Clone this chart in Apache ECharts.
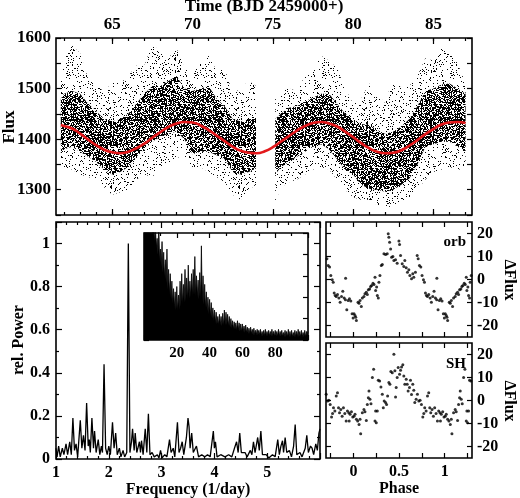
<!DOCTYPE html>
<html>
<head>
<meta charset="utf-8">
<script src="https://cdn.jsdelivr.net/npm/echarts@6/dist/echarts.min.js"></script>
<style>
  html, body { margin: 0; padding: 0; background: #fff; }
  #chart { width: 520px; height: 498px; }
</style>
</head>
<body>
<div id="chart"></div>
<script>
// light curve, binned: time, outer envelope and dense core of the points
const lcTime = [61.8, 62.0, 62.5, 63.0, 63.5, 64.0, 64.5, 65.0, 65.5, 66.0, 66.5, 67.0, 67.5, 68.0, 68.5, 69.0, 69.5, 70.0, 70.5, 71.0, 71.5, 72.0, 72.5, 73.0, 73.5, 73.95,
  75.15, 75.5, 76.0, 76.5, 77.0, 77.5, 78.0, 78.5, 79.0, 79.5, 80.0, 80.5, 81.0, 81.5, 82.0, 82.5, 83.0, 83.5, 84.0, 84.5, 85.0, 85.5, 86.0, 86.5, 87.0]
const lcOutLo = [1350, 1345, 1340, 1330, 1325, 1320, 1305, 1290, 1295, 1300, 1320, 1330, 1325, 1345, 1350, 1365, 1360, 1345, 1345, 1335, 1325, 1315, 1290, 1280, 1300, 1310,
  1275, 1305, 1315, 1320, 1330, 1340, 1345, 1340, 1320, 1300, 1285, 1280, 1280, 1270, 1262, 1270, 1275, 1285, 1300, 1320, 1335, 1340, 1345, 1340, 1340]
const lcCoreLo = [1380, 1380, 1385, 1375, 1365, 1355, 1340, 1330, 1335, 1345, 1365, 1380, 1395, 1405, 1410, 1415, 1400, 1370, 1375, 1375, 1368, 1360, 1335, 1330, 1335, 1342,
  1330, 1345, 1355, 1365, 1375, 1385, 1390, 1380, 1360, 1340, 1330, 1310, 1302, 1300, 1296, 1300, 1310, 1322, 1350, 1385, 1390, 1395, 1395, 1385, 1375]
const lcCoreHi = [1480, 1490, 1495, 1490, 1470, 1455, 1440, 1435, 1440, 1450, 1470, 1490, 1505, 1505, 1515, 1525, 1500, 1495, 1500, 1505, 1480, 1465, 1440, 1435, 1440, 1440,
  1440, 1450, 1462, 1465, 1475, 1482, 1490, 1490, 1470, 1450, 1440, 1430, 1428, 1418, 1410, 1415, 1425, 1440, 1465, 1495, 1500, 1508, 1510, 1500, 1490]
const lcOutHi = [1540, 1560, 1585, 1570, 1520, 1515, 1490, 1515, 1510, 1525, 1545, 1545, 1590, 1570, 1560, 1580, 1540, 1535, 1550, 1565, 1535, 1540, 1490, 1500, 1515, 1505,
  1480, 1495, 1500, 1495, 1525, 1535, 1565, 1555, 1540, 1500, 1470, 1480, 1510, 1490, 1470, 1525, 1500, 1505, 1525, 1560, 1555, 1580, 1570, 1550, 1510]

// red fit
const fitTime = [61.8, 62.0, 62.5, 63.0, 63.5, 64.0, 64.5, 65.0, 65.5, 66.0, 66.5, 67.0, 67.5, 68.0, 68.5, 69.0, 69.5, 70.0, 70.5, 71.0, 71.5, 72.0, 72.5, 73.0, 73.5, 74.0,
  74.5, 75.0, 75.5, 76.0, 76.5, 77.0, 77.5, 78.0, 78.5, 79.0, 79.5, 80.0, 80.5, 81.0, 81.5, 82.0, 82.5, 83.0, 83.5, 84.0, 84.5, 85.0, 85.5, 86.0, 86.5, 87.0]
const fitFlux = [1428, 1426, 1421, 1411, 1399, 1388, 1379, 1374, 1372, 1375, 1382, 1391, 1403, 1414, 1424, 1431, 1434, 1433, 1427, 1418, 1407, 1396, 1385, 1377, 1373, 1372,
  1376, 1384, 1395, 1406, 1417, 1426, 1432, 1434, 1431, 1425, 1415, 1404, 1392, 1382, 1375, 1372, 1373, 1378, 1387, 1398, 1410, 1420, 1429, 1433, 1434, 1432]

// periodogram 1-6 c/d
const pgFreq = [1.00, 1.02, 1.05, 1.08, 1.12, 1.15, 1.19, 1.22, 1.26, 1.29, 1.32, 1.35, 1.38, 1.41, 1.46, 1.49, 1.52, 1.55, 1.58, 1.61, 1.63, 1.65, 1.68, 1.71, 1.73, 1.76,
  1.80, 1.83, 1.86, 1.88, 1.91, 1.94, 1.97, 2.00, 2.03, 2.07, 2.10, 2.13, 2.16, 2.20, 2.23, 2.27, 2.30, 2.34, 2.37, 2.40, 2.43, 2.45, 2.48, 2.50, 2.53, 2.58, 2.60, 2.62,
  2.65, 2.69, 2.72, 2.75, 2.78, 2.82, 2.86, 2.92, 2.95, 2.98, 3.01, 3.06, 3.10, 3.15, 3.18, 3.22, 3.25, 3.30, 3.33, 3.36, 3.39, 3.42, 3.47, 3.50, 3.52, 3.54, 3.57, 3.60,
  3.66, 3.70, 3.76, 3.82, 3.87, 3.92, 3.98, 4.00, 4.02, 4.05, 4.12, 4.20, 4.27, 4.33, 4.38, 4.42, 4.45, 4.48, 4.51, 4.58, 4.62, 4.68, 4.71, 4.74, 4.77, 4.82, 4.85, 4.88,
  4.91, 4.98, 5.03, 5.10, 5.15, 5.20, 5.23, 5.26, 5.29, 5.31, 5.34, 5.37, 5.42, 5.46, 5.50, 5.53, 5.56, 5.62, 5.66, 5.72, 5.75, 5.78, 5.82, 5.85, 5.88, 5.92, 5.95, 5.98, 6.00]
const pgPower = [0.05, 0.01, 0.06, 0.01, 0.05, 0.02, 0.07, 0.02, 0.08, 0.02, 0.19, 0.04, 0.07, 0.01, 0.18, 0.05, 0.11, 0.04, 0.26, 0.06, 0.09, 0.03, 0.19, 0.05, 0.13, 0.03,
  0.09, 0.02, 0.06, 0.03, 0.44, 0.05, 0.02, 0.06, 0.02, 0.17, 0.05, 0.12, 0.02, 0.05, 0.01, 0.04, 0.01, 0.03, 1.00, 0.03, 0.08, 0.14, 0.04, 0.12, 0.03, 0.08, 0.03, 0.085,
  0.02, 0.14, 0.03, 0.21, 0.02, 0.03, 0.01, 0.02, 0.005, 0.04, 0.005, 0.02, 0.01, 0.09, 0.03, 0.05, 0.01, 0.17, 0.03, 0.05, 0.08, 0.02, 0.10, 0.19, 0.15, 0.05, 0.12, 0.03,
  0.06, 0.01, 0.02, 0.01, 0.02, 0.01, 0.13, 0.05, 0.08, 0.01, 0.02, 0.01, 0.02, 0.01, 0.05, 0.08, 0.03, 0.12, 0.03, 0.03, 0.01, 0.04, 0.02, 0.08, 0.03, 0.10, 0.04, 0.13,
  0.02, 0.02, 0.005, 0.02, 0.01, 0.09, 0.02, 0.06, 0.085, 0.03, 0.10, 0.03, 0.04, 0.01, 0.06, 0.16, 0.02, 0.03, 0.01, 0.05, 0.11, 0.03, 0.06, 0.05, 0.02, 0.07, 0.04, 0.12, 0.14]

// inset periodogram 0-100 c/d, spike tops and dense floor per 1 c/d
const insetPeak = [1.1, 1.1, 1.1, 1.1, 1.1, 1.1, 1.1, 1.05, 0.95, 1.1, 0.85, 0.92, 0.82, 0.75, 0.85, 0.66, 0.62, 0.55, 0.48, 0.45, 0.50, 0.42, 0.55, 0.62, 0.52, 0.66,
  0.58, 0.70, 0.55, 0.62, 0.66, 0.78, 0.60, 0.56, 0.63, 0.88, 0.60, 0.52, 0.45, 0.40, 0.38, 0.35, 0.30, 0.28, 0.26, 0.22, 0.24, 0.22, 0.25, 0.28, 0.26, 0.24, 0.22,
  0.20, 0.18, 0.17, 0.16, 0.18, 0.16, 0.15, 0.15, 0.13, 0.14, 0.12, 0.11, 0.12, 0.10, 0.11, 0.09, 0.10, 0.09, 0.10, 0.08, 0.09, 0.10, 0.08, 0.09, 0.08, 0.10, 0.08,
  0.09, 0.08, 0.10, 0.08, 0.09, 0.07, 0.09, 0.08, 0.10, 0.08, 0.09, 0.07, 0.09, 0.08, 0.10, 0.08, 0.09, 0.07, 0.09, 0.08, 0.08]
const insetFloor = [1.1, 1.1, 1.1, 1.1, 1.05, 0.98, 0.92, 0.86, 0.80, 0.74, 0.68, 0.63, 0.58, 0.53, 0.47, 0.42, 0.38, 0.34, 0.30, 0.28, 0.27, 0.28, 0.31, 0.33, 0.35, 0.36,
  0.37, 0.39, 0.40, 0.41, 0.42, 0.41, 0.40, 0.38, 0.37, 0.36, 0.33, 0.30, 0.27, 0.24, 0.22, 0.20, 0.18, 0.16, 0.15, 0.14, 0.14, 0.13, 0.13, 0.14, 0.14, 0.13, 0.12,
  0.11, 0.10, 0.10, 0.09, 0.09, 0.08, 0.08, 0.08, 0.07, 0.07, 0.06, 0.06, 0.06, 0.05, 0.05, 0.05, 0.05, 0.05, 0.04, 0.04, 0.04, 0.04, 0.04, 0.04, 0.04, 0.035, 0.035,
  0.035, 0.035, 0.035, 0.035, 0.035, 0.03, 0.03, 0.03, 0.03, 0.03, 0.03, 0.03, 0.03, 0.03, 0.03, 0.03, 0.03, 0.03, 0.03, 0.03, 0.03]

// phase-folded residuals, phase 0..1 (shown again at +-1)
const orbPhase = [0.007, 0.018, 0.026, 0.033, 0.051, 0.062, 0.073, 0.087, 0.098, 0.116, 0.127, 0.142, 0.153, 0.164, 0.178, 0.189, 0.200, 0.215, 0.226, 0.237,
  0.244, 0.255, 0.262, 0.273, 0.280, 0.291, 0.306, 0.317, 0.335, 0.353, 0.371, 0.382, 0.389, 0.397, 0.408, 0.419, 0.433, 0.444, 0.462, 0.480, 0.499, 0.506, 0.517,
  0.535, 0.553, 0.564, 0.579, 0.593, 0.608, 0.619, 0.637, 0.651, 0.662, 0.680, 0.699, 0.710, 0.724, 0.739, 0.753, 0.768, 0.779, 0.790, 0.801, 0.812, 0.826, 0.841,
  0.855, 0.870, 0.884, 0.899, 0.913, 0.928, 0.943, 0.957, 0.972, 0.986, 0.997, 0.915]
const orbFlux = [-14.9, -15.7, -16.4, -17.8, -9.9, -10.3, -9.1, -11.7, -8.0, -7.4, -6.2, -5.5, -6.5, -4.5, -4.1, -3.0, -2.6, -1.6, -2.2, 1.0,
  -4.8, -3.3, -7.0, -8.0, -1.2, 1.7, 6.1, 6.5, 11.2, 10.9, 11.2, 19.9, 18.4, 16.2, 13.3, 9.7, 10.0, 8.3, 8.6, 7.1, 16.7, 15.2, 10.4,
  6.8, 5.7, 8.3, 5.1, 3.2, 4.2, 1.7, 0.3, 2.5, 1.0, 3.2, 10.4, 9.0, 6.1, 5.4, 1.7, -0.1, -1.2, -5.9, -7.0, -7.4, -6.5, -8.0,
  -9.9, -7.4, -5.1, -8.0, -8.8, -13.2, -9.1, -8.4, -9.4, -14.9, -16.7, 0.5]
const shPhase = [0.007, 0.018, 0.033, 0.047, 0.062, 0.073, 0.080, 0.098, 0.116, 0.127, 0.142, 0.153, 0.164, 0.171, 0.182, 0.193, 0.208, 0.222, 0.237, 0.244,
  0.251, 0.262, 0.273, 0.288, 0.302, 0.317, 0.328, 0.338, 0.353, 0.364, 0.375, 0.389, 0.400, 0.411, 0.426, 0.444, 0.455, 0.462, 0.469, 0.480,
  0.491, 0.506, 0.517, 0.528, 0.542, 0.553, 0.564, 0.579, 0.590, 0.600, 0.615, 0.626, 0.637, 0.651, 0.662, 0.673, 0.688, 0.702, 0.717, 0.731,
  0.746, 0.761, 0.772, 0.782, 0.797, 0.812, 0.826, 0.837, 0.848, 0.862, 0.877, 0.891, 0.906, 0.921, 0.935, 0.950, 0.954, 0.964, 0.979, 0.993]
const shFlux = [-6.8, -6.0, -8.2, -8.9, -10.4, -8.2, -14.5, -5.3, -3.9, -4.9, -8.7, -1.7, 1.2, 4.1, 0.5, -1.4, 10.0, 13.6, -8.9, -4.6,
  -9.7, -4.6, 8.8, 8.5, 5.9, 2.7, -3.1, -0.2, -0.9, -1.7, 2.0, 7.8, 7.1, 12.6, 12.1, 20.1, 12.9, 1.5, 5.6, 10.0,
  14.3, 11.4, 13.2, 14.6, 15.5, 10.7, 7.1, 9.2, 7.1, 4.1, 5.6, 8.8, 2.6, 7.1, 4.5, -0.9, 0.5, 2.7, -0.2, 0.1,
  -1.7, -7.2, -5.7, -3.1, -4.6, 2.0, 3.4, -3.1, -5.3, -3.9, -6.8, -3.1, -5.7, -8.9, -4.6, -5.3, -8.9, -6.0, -4.9, -7.2]

const timeLabels = [65, 70, 75, 80, 85]
const timeMinor = [62, 63, 64, 65, 66, 67, 68, 69, 70, 71, 72, 73, 74, 75, 76, 77, 78, 79, 80, 81, 82, 83, 84, 85, 86, 87]
const phaseTicks = [-0.25, 0, 0.25, 0.5, 0.75, 1, 1.25]
const phaseLabels = [0, 0.5, 1]
const dfluxTicks = [-20, -10, 0, 10, 20]

const FONT = 'Liberation Serif'
const txt = (size) => ({ fontFamily: FONT, fontWeight: 'bold', fontSize: size, color: '#000' })

// dotted texture for the scatter cloud
function speckle(density, seed) {
  const n = 64
  const c = document.createElement('canvas')
  c.width = n; c.height = n
  const ctx = c.getContext('2d')
  const img = ctx.createImageData(n, n)
  let s = seed
  for (let k = 0; k < n * n; k++) {
    s = (s * 1103515245 + 12345) & 0x7fffffff
    if (s / 0x7fffffff < density) img.data[k * 4 + 3] = 255
  }
  ctx.putImageData(img, 0, 0)
  return { image: c, repeat: 'repeat' }
}
const denseFill = speckle(0.55, 7)
const sparseFill = speckle(0.1, 11)

function band(lo, hi, fill) {
  return {
    type: 'custom',
    xAxisIndex: 0, yAxisIndex: 0,
    silent: true,
    data: lcTime.map((t, i) => [t, lo[i], hi[i]]),
    renderItem(params, api) {
      const i = params.dataIndex
      // one polygon per continuous run of bins
      if (i > 0 && lcTime[i] - lcTime[i - 1] < 0.8) return
      let j = i
      while (j + 1 < lcTime.length && lcTime[j + 1] - lcTime[j] < 0.8) j++
      const top = [], bot = []
      for (let k = i; k <= j; k++) {
        top.push(api.coord([lcTime[k], hi[k]]))
        bot.unshift(api.coord([lcTime[k], lo[k]]))
      }
      return { type: 'polygon', shape: { points: top.concat(bot) }, style: { fill: fill } }
    }
  }
}

function fold(ph, fl) {
  const out = []
  ph.forEach((p, i) => {
    [-1, 0, 1].forEach(k => {
      const q = p + k
      if (q >= -0.3 && q <= 1.3) out.push([q, fl[i]])
    })
  })
  return out
}

const insetData = []
insetPeak.forEach((v, f) => {
  insetData.push([f, v])
  if (f < insetPeak.length - 1) insetData.push([f + 0.5, insetFloor[f]])
})

const tick = (len, extra) => Object.assign({ show: true, inside: true, length: len, lineStyle: { color: '#000', width: 1.2 } }, extra || {})
const minor = (n) => ({ show: true, splitNumber: n, length: 3, lineStyle: { color: '#000', width: 1.2 } })
const noLine = { show: false, onZero: false }
const noSplit = { show: false }

function axis(grid, pos, min, max, extra) {
  return Object.assign({
    type: 'value', gridIndex: grid, position: pos, min: min, max: max,
    axisLine: noLine, splitLine: noSplit, axisLabel: { show: false }
  }, extra)
}

// rotated y titles as plain text
function vTitle(text, x, y, size, rot) {
  return {
    type: 'text', x: x, y: y, rotation: rot,
    style: { text: text, font: 'bold ' + size + 'px "Liberation Serif"', fill: '#000', align: 'center', verticalAlign: 'middle' }
  }
}

const frame = { show: true, borderColor: '#000', borderWidth: 1.6, backgroundColor: 'transparent', containLabel: false, outerBoundsMode: 'none' }

const chart = echarts.init(document.getElementById('chart'))
chart.setOption({
  animation: false,
  backgroundColor: '#fff',
  grid: [
    Object.assign({ left: 56, top: 38, width: 416, height: 177 }, frame),
    Object.assign({ left: 56, top: 222, width: 264, height: 237 }, frame),
    Object.assign({ left: 144, top: 233, width: 164, height: 107 }, frame),
    Object.assign({ left: 326, top: 222, width: 146, height: 115 }, frame),
    Object.assign({ left: 326, top: 343, width: 146, height: 115 }, frame)
  ],
  xAxis: [
    axis(0, 'top', 61.5, 87.4, {
      axisTick: tick(6, { customValues: timeLabels }),
      axisLabel: Object.assign({ show: true, customValues: timeLabels, margin: 5 }, txt(17)),
      name: 'Time (BJD 2459000+)', nameLocation: 'middle', nameGap: 22, nameTextStyle: txt(17)
    }),
    axis(0, 'top', 61.5, 87.4, { axisTick: tick(3, { customValues: timeMinor }) }),
    axis(0, 'bottom', 61.5, 87.4, { axisTick: tick(6, { customValues: timeLabels }) }),
    axis(0, 'bottom', 61.5, 87.4, { axisTick: tick(3, { customValues: timeMinor }) }),
    axis(1, 'bottom', 1, 6, {
      interval: 1, axisTick: tick(6), minorTick: minor(5),
      axisLabel: Object.assign({ show: true, margin: 6, showMaxLabel: false }, txt(16)),
      name: 'Frequency (1/day)', nameLocation: 'middle', nameGap: 23, nameTextStyle: txt(16)
    }),
    axis(1, 'top', 1, 6, { interval: 1, axisTick: tick(6), minorTick: minor(5) }),
    axis(2, 'bottom', 0, 100, {
      interval: 20, axisTick: tick(5), minorTick: minor(2),
      axisLabel: Object.assign({ show: true, margin: 6, showMinLabel: false, showMaxLabel: false }, txt(15))
    }),
    axis(2, 'top', 0, 100, { interval: 20, axisTick: tick(5), minorTick: minor(2) }),
    axis(3, 'bottom', -0.3, 1.3, { axisTick: tick(5, { customValues: phaseTicks }) }),
    axis(3, 'top', -0.3, 1.3, { axisTick: tick(5, { customValues: phaseTicks }) }),
    axis(4, 'bottom', -0.3, 1.3, {
      axisTick: tick(5, { customValues: phaseTicks }),
      axisLabel: Object.assign({ show: true, customValues: phaseLabels, margin: 6 }, txt(16)),
      name: 'Phase', nameLocation: 'middle', nameGap: 23, nameTextStyle: txt(16)
    }),
    axis(4, 'top', -0.3, 1.3, { axisTick: tick(5, { customValues: phaseTicks }) })
  ],
  yAxis: [
    axis(0, 'left', 1250, 1600, {
      interval: 50, axisTick: tick(5),
      axisLabel: Object.assign({ show: true, margin: 5, formatter: v => (v % 100 === 0 ? String(v) : '') }, txt(17))
    }),
    axis(0, 'right', 1250, 1600, { interval: 50, axisTick: tick(5) }),
    axis(1, 'left', 0, 1.1, {
      interval: 0.2, axisTick: tick(6), minorTick: minor(2),
      axisLabel: Object.assign({ show: true, margin: 6, showMaxLabel: false }, txt(16))
    }),
    axis(1, 'right', 0, 1.1, { interval: 0.2, axisTick: tick(6), minorTick: minor(2) }),
    axis(2, 'left', 0, 1, { interval: 0.2, axisTick: tick(5) }),
    axis(2, 'right', 0, 1, { interval: 0.2, axisTick: tick(5) }),
    axis(3, 'left', -25, 25, { axisTick: tick(5, { customValues: dfluxTicks }) }),
    axis(3, 'right', -25, 25, {
      axisTick: tick(5, { customValues: dfluxTicks }),
      axisLabel: Object.assign({ show: true, customValues: dfluxTicks, margin: 5 }, txt(16))
    }),
    axis(4, 'left', -25, 25, { axisTick: tick(5, { customValues: dfluxTicks }) }),
    axis(4, 'right', -25, 25, {
      axisTick: tick(5, { customValues: dfluxTicks }),
      axisLabel: Object.assign({ show: true, customValues: dfluxTicks, margin: 5 }, txt(16))
    })
  ],
  graphic: [
    vTitle('Flux', 10, 127, 17, Math.PI / 2),
    vTitle('rel. Power', 19, 340, 16, Math.PI / 2),
    vTitle('ΔFlux', 509, 280, 16, -Math.PI / 2),
    vTitle('ΔFlux', 509, 401, 16, -Math.PI / 2),
    { type: 'text', right: 54, top: 235, style: { text: 'orb', font: 'bold 15px "Liberation Serif"', fill: '#000' } },
    { type: 'text', right: 54, top: 357, style: { text: 'SH', font: 'bold 15px "Liberation Serif"', fill: '#000' } }
  ],
  series: [
    band(lcOutLo, lcOutHi, sparseFill),
    band(lcCoreLo, lcCoreHi, denseFill),
    {
      type: 'line', xAxisIndex: 0, yAxisIndex: 0, smooth: true, showSymbol: false, silent: true,
      data: fitTime.map((t, i) => [t, fitFlux[i]]),
      lineStyle: { color: '#e3191c', width: 2.6 }
    },
    {
      type: 'line', xAxisIndex: 4, yAxisIndex: 2, showSymbol: false, silent: true,
      data: pgFreq.map((f, i) => [f, pgPower[i]]),
      lineStyle: { color: '#000', width: 1.3 }
    },
    {
      type: 'line', xAxisIndex: 6, yAxisIndex: 4, showSymbol: false, silent: true, clip: true,
      data: insetData,
      lineStyle: { color: '#000', width: 0.8 },
      areaStyle: { color: '#000', opacity: 1 }
    },
    {
      type: 'scatter', xAxisIndex: 8, yAxisIndex: 6, symbolSize: 3, silent: true,
      data: fold(orbPhase, orbFlux), itemStyle: { color: '#000' }
    },
    {
      type: 'scatter', xAxisIndex: 10, yAxisIndex: 8, symbolSize: 3, silent: true,
      data: fold(shPhase, shFlux), itemStyle: { color: '#000' }
    }
  ]
})
</script>
</body>
</html>
